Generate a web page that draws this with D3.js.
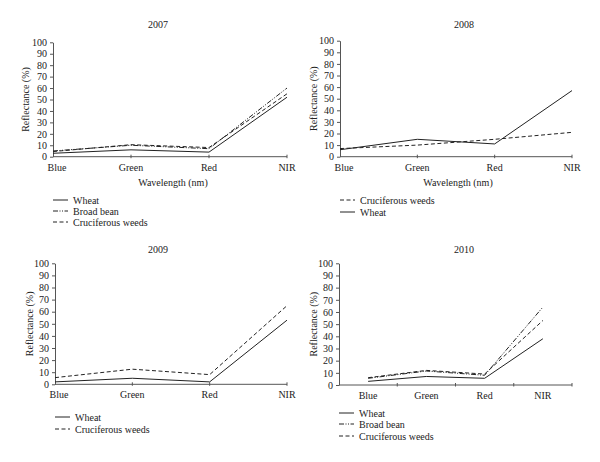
<!DOCTYPE html>
<html><head><meta charset="utf-8">
<script src="https://cdn.jsdelivr.net/npm/d3@7"></script>
<style>body{margin:0;background:#fff}svg{display:block}text{font-family:"Liberation Serif","DejaVu Serif",serif;fill:#222}</style>
</head><body><svg id="c" width="600" height="462"></svg>
<script>
const categories = ["Blue", "Green", "Red", "NIR"];
const yTicks = [0,10,20,30,40,50,60,70,80,90,100];
const years = ["2007", "2008", "2009", "2010"];
const wheat2007 = [3, 6, 4, 52];
const broadBean2007 = [5, 10, 7, 60];
const crucif2007 = [4.5, 10.5, 8, 55];
const crucif2008 = [7, 10, 15, 21];
const wheat2008 = [6, 15, 11, 57];
const wheat2009 = [2, 5, 2, 53];
const crucif2009 = [5.5, 12.5, 8, 65];
const wheat2010 = [3, 7, 5.5, 38];
const broadBean2010 = [5.5, 11.5, 8, 64];
const crucif2010 = [6, 12, 9, 53];

const styles = {"Wheat": null, "Broad bean": "5,1.5,1,1.5,1,1.5", "Cruciferous weeds": "4,2.5"};

const panels = [
  {year: years[0], x0: 53, x1: 287, yT: 42.3, yB: 156.7, band: false, tx: 158, ty: 28, ylx: 25, xTitle: [173, 186],
   series: [["Wheat", wheat2007], ["Broad bean", broadBean2007], ["Cruciferous weeds", crucif2007]],
   leg: {x: 53, ys: [200, 211, 222]}},
  {year: years[1], x0: 340, x1: 572, yT: 40.7, yB: 156.7, band: false, tx: 464, ty: 28, ylx: 313, xTitle: [458, 186],
   series: [["Cruciferous weeds", crucif2008], ["Wheat", wheat2008]],
   leg: {x: 340, ys: [200, 212]}},
  {year: years[2], x0: 55, x1: 287, yT: 263.3, yB: 384.3, band: false, tx: 158, ty: 253, ylx: 29, xTitle: null,
   series: [["Wheat", wheat2009], ["Cruciferous weeds", crucif2009]],
   leg: {x: 55, ys: [417, 429]}},
  {year: years[3], x0: 339, x1: 572, yT: 263.3, yB: 385, band: true, tx: 464, ty: 253, ylx: 313, xTitle: null,
   series: [["Wheat", wheat2010], ["Broad bean", broadBean2010], ["Cruciferous weeds", crucif2010]],
   leg: {x: 339, ys: [413, 424, 436]}}
];

const svg = d3.select("#c");
panels.forEach(p => {
  const g = svg.append("g");
  const y = d3.scaleLinear().domain([0, 100]).range([p.yB, p.yT]);
  let xPos;
  let xs;
  if (p.band) {
    xs = d3.scaleBand().domain(categories).range([p.x0, p.x1]);
    xPos = c => xs(c) + xs.bandwidth() / 2;
  } else {
    xs = d3.scalePoint().domain(categories).range([p.x0, p.x1]).padding(0);
    xPos = c => xs(c);
  }
  // title
  g.append("text").attr("x", p.tx).attr("y", p.ty).attr("text-anchor", "middle").attr("font-size", 10).text(p.year);
  // y axis
  const ya = g.append("g").attr("transform", `translate(${p.x0},0)`)
    .call(d3.axisLeft(y).tickValues(yTicks).tickSize(3).tickSizeOuter(0).tickPadding(3));
  ya.select(".domain").attr("stroke", "#555");
  ya.selectAll(".tick line").attr("stroke", "#555");
  ya.selectAll(".tick text").attr("font-size", 10).attr("font-family", "Liberation Serif, serif").attr("fill", "#222");
  // x axis
  const xa = g.append("g").attr("transform", `translate(0,${p.yB})`);
  xa.append("line").attr("x1", p.x0).attr("x2", p.x1).attr("stroke", "#555");
  const tickXs = p.band ? categories.map(c => xs(c)).concat([p.x1]).slice(1) : categories.slice(1).map(c => xs(c));
  xa.selectAll("line.t").data(tickXs).join("line").attr("class", "t")
    .attr("x1", d => d).attr("x2", d => d).attr("y1", -2).attr("y2", 1.5).attr("stroke", "#555");
  xa.selectAll("text").data(categories).join("text")
    .attr("x", c => xPos(c) + (p.band ? 0 : (c === "Blue" ? 4 : 0)))
    .attr("y", 14).attr("text-anchor", "middle").attr("font-size", 10).text(c => c);
  if (p.xTitle) {
    g.append("text").attr("x", p.xTitle[0]).attr("y", p.xTitle[1]).attr("text-anchor", "middle").attr("font-size", 10).text("Wavelength (nm)");
  }
  g.append("text").attr("transform", `translate(${p.ylx},${(p.yT + p.yB) / 2}) rotate(-90)`)
    .attr("text-anchor", "middle").attr("dy", "0.35em").attr("font-size", 10).text("Reflectance (%)");
  // lines
  const line = d3.line().x((d, i) => xPos(categories[i])).y(d => y(d));
  p.series.forEach(([name, vals]) => {
    g.append("path").datum(vals).attr("d", line).attr("fill", "none").attr("stroke", "#222")
      .attr("stroke-width", 1).attr("stroke-dasharray", styles[name]);
  });
  // legend
  p.series.forEach(([name], i) => {
    const ly = p.leg.ys[i];
    g.append("line").attr("x1", p.leg.x).attr("x2", p.leg.x + 15).attr("y1", ly).attr("y2", ly)
      .attr("stroke", "#222").attr("stroke-dasharray", styles[name]);
    g.append("text").attr("x", p.leg.x + 20).attr("y", ly).attr("dy", "0.35em").attr("font-size", 10).text(name);
  });
});
</script></body></html>
